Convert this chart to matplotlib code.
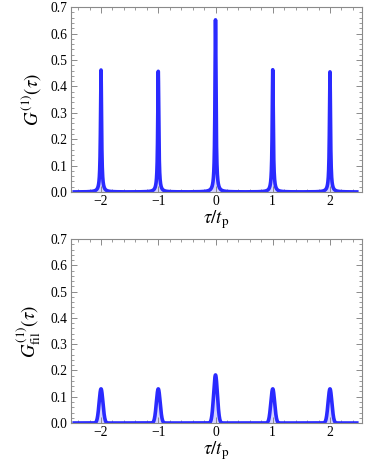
import numpy as np
import matplotlib
matplotlib.use("Agg")
import matplotlib.pyplot as plt
from matplotlib.ticker import MultipleLocator

plt.rcParams['font.family'] = ['Liberation Serif', 'DejaVu Serif']
plt.rcParams['mathtext.fontset'] = 'stix'

# Data
peak_positions = [-2, -1, 0, 1, 2]
top_heights = [0.462, 0.457, 0.652, 0.463, 0.455]      # G^(1) peaks
bottom_heights = [0.130, 0.130, 0.183, 0.130, 0.130]   # G_fil^(1) peaks
top_hwhm = 0.011        # Lorentzian half width of unfiltered peaks
bottom_sigma = 0.033    # Gaussian width of filtered peaks
tau_range = (-2.5, 2.5)

tau = np.linspace(tau_range[0], tau_range[1], 6001)
g_top = np.zeros_like(tau)
for p, h in zip(peak_positions, top_heights):
    g_top += h * top_hwhm**2 / ((tau - p)**2 + top_hwhm**2)
g_bot = np.zeros_like(tau)
for p, h in zip(peak_positions, bottom_heights):
    g_bot += h * np.exp(-0.5 * ((tau - p) / bottom_sigma)**2)

line_color = '#2a2aff'
fill_color = '#c8c8ff'
frame_color = '#8a8a8a'

fig = plt.figure(figsize=(3.74, 4.62), dpi=100)
ax1 = fig.add_axes([0.189, 0.5844, 0.779, 0.400])
ax2 = fig.add_axes([0.189, 0.0844, 0.779, 0.398])

for ax, g, ylab in [(ax1, g_top, r'$G^{(1)}(\tau)$'),
                    (ax2, g_bot, r'$G^{(1)}_{\mathrm{fil}}(\tau)$')]:
    ax.fill_between(tau, 0, g, color=fill_color, alpha=0.8, lw=0)
    ax.plot(tau, g, color=line_color, lw=2.6, solid_capstyle='butt')
    ax.set_xlim(-2.53, 2.56)
    ax.set_ylim(0, 0.7)
    ax.xaxis.set_major_locator(MultipleLocator(1))
    ax.xaxis.set_minor_locator(MultipleLocator(0.2))
    ax.yaxis.set_major_locator(MultipleLocator(0.1))
    ax.yaxis.set_minor_locator(MultipleLocator(0.02))
    ax.yaxis.set_major_formatter(matplotlib.ticker.FormatStrFormatter('%.1f'))
    ax.tick_params(which='both', direction='in', top=True, right=True,
                   color=frame_color, labelsize=9.8, pad=2.5)
    ax.tick_params(which='major', length=4, width=0.7)
    ax.tick_params(which='minor', length=2, width=0.6)
    for s in ax.spines.values():
        s.set_color(frame_color)
        s.set_linewidth(0.8)
    ax.set_xlabel(r'$\tau/t_{\mathrm{p}}$', fontsize=13.5, labelpad=0)
    ax.set_ylabel(ylab, fontsize=13.5, labelpad=5)

fig.savefig('out.png', dpi=100)
